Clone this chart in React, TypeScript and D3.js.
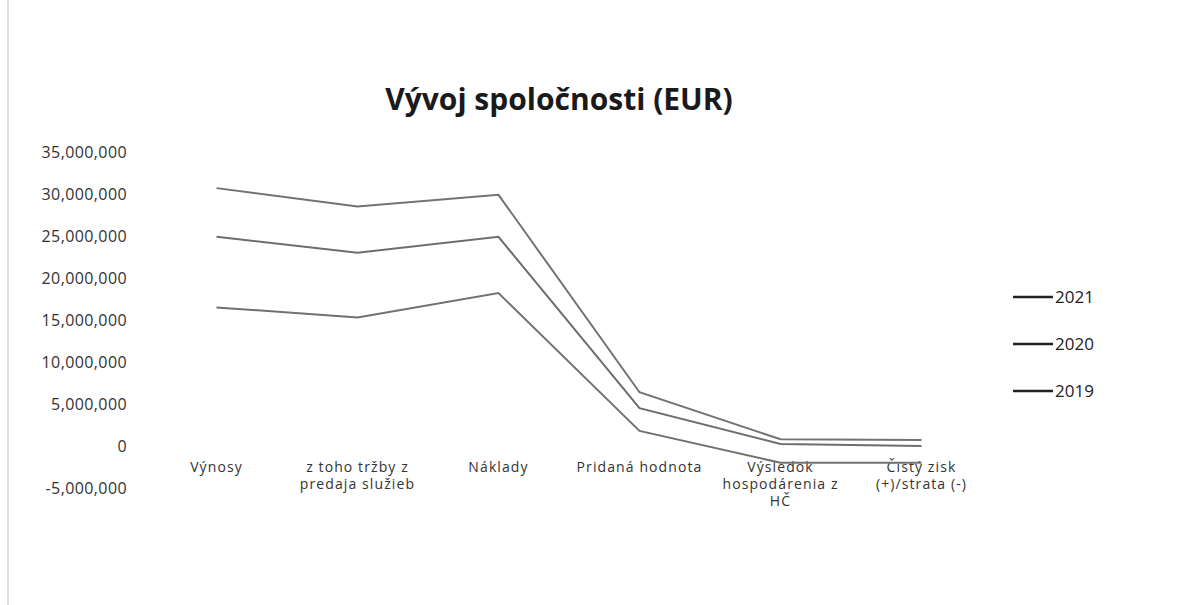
import React, { useEffect, useRef } from 'react';
import * as d3 from 'd3';

const categories = [
  ['Výnosy'],
  ['z toho tržby z', 'predaja služieb'],
  ['Náklady'],
  ['Pridaná hodnota'],
  ['Výsledok', 'hospodárenia z', 'HČ'],
  ['Čistý zisk', '(+)/strata (-)'],
];

const years = ['2021', '2020', '2019'];

const values2021 = [30700000, 28500000, 29900000, 6400000, 800000, 700000];
const values2020 = [24900000, 23000000, 24900000, 4500000, 250000, 0];
const values2019 = [16500000, 15300000, 18200000, 1800000, -2000000, -2000000];

const yTicks = [-5000000, 0, 5000000, 10000000, 15000000, 20000000, 25000000, 30000000, 35000000];

const FONT = 'Open Sans, sans-serif';

const App: React.FC = () => {
  const svgRef = useRef<SVGSVGElement>(null);

  useEffect(() => {
    if (!svgRef.current) return;
    const width = 1183;
    const height = 605;
    const svg = d3.select(svgRef.current);
    svg.selectAll('*').remove();

    const series = [values2021, values2020, values2019];

    const x = d3.scaleBand<number>()
      .domain(d3.range(categories.length))
      .range([146, 992]);

    const y = d3.scaleLinear()
      .domain([-5000000, 35000000])
      .range([488, 152]);

    // faint page border of the scan
    svg.append('line')
      .attr('x1', 8).attr('x2', 8)
      .attr('y1', 0).attr('y2', height)
      .attr('stroke', '#d6d6d6')
      .attr('stroke-width', 1.5);

    // title
    svg.append('text')
      .attr('x', 559)
      .attr('y', 110)
      .attr('text-anchor', 'middle')
      .attr('font-family', FONT)
      .attr('font-weight', 'bold')
      .attr('font-size', 30)
      .attr('fill', '#1a1a1a')
      .text('Vývoj spoločnosti (EUR)');

    // y tick labels (plain hyphen for negatives, as in the source)
    const fmt = (v: number) => d3.format(',')(v).replace('\u2212', '-');
    svg.append('g')
      .selectAll('text')
      .data(yTicks)
      .enter()
      .append('text')
      .attr('x', 127)
      .attr('y', d => y(d))
      .attr('dy', '0.35em')
      .attr('text-anchor', 'end')
      .attr('font-family', FONT)
      .attr('font-size', 16)
      .attr('letter-spacing', 0.4)
      .attr('fill', '#333')
      .text(d => fmt(d));

    // category labels
    const cat = svg.append('g')
      .selectAll('text')
      .data(categories)
      .enter()
      .append('text')
      .attr('x', (_, i) => (x(i) as number) + x.bandwidth() / 2)
      .attr('y', 472)
      .attr('text-anchor', 'middle')
      .attr('font-family', FONT)
      .attr('font-size', 14)
      .attr('letter-spacing', 1.1)
      .attr('fill', '#333');
    cat.selectAll('tspan')
      .data(d => d)
      .enter()
      .append('tspan')
      .attr('x', function () {
        return (this.parentNode as SVGTextElement).getAttribute('x');
      })
      .attr('dy', (_, j) => (j === 0 ? 0 : 17))
      .text(d => d);

    // lines
    const line = d3.line<number>()
      .x((_, i) => (x(i) as number) + x.bandwidth() / 2)
      .y(d => y(d));

    const colors = ['#737373', '#6d6d6d', '#717171'];
    svg.append('g')
      .selectAll('path')
      .data(series)
      .enter()
      .append('path')
      .attr('d', d => line(d))
      .attr('fill', 'none')
      .attr('stroke', (_, i) => colors[i])
      .attr('stroke-width', 2);

    // legend
    const legend = svg.append('g')
      .selectAll('g')
      .data(years)
      .enter()
      .append('g')
      .attr('transform', (_, i) => `translate(1013, ${297 + i * 47})`);
    legend.append('line')
      .attr('x1', 0).attr('x2', 40)
      .attr('y1', 0).attr('y2', 0)
      .attr('stroke', '#222')
      .attr('stroke-width', 2.5);
    legend.append('text')
      .attr('x', 42)
      .attr('y', 0)
      .attr('dy', '0.35em')
      .attr('font-family', FONT)
      .attr('font-size', 17)
      .attr('fill', '#222')
      .text(d => d);

    svg.attr('width', width).attr('height', height);
  }, []);

  return (
    <div style={{ position: 'absolute', left: 0, top: 0 }}>
      <svg ref={svgRef} width={1183} height={605} style={{ display: 'block', background: '#fff' }}></svg>
    </div>
  );
};

export default App;
